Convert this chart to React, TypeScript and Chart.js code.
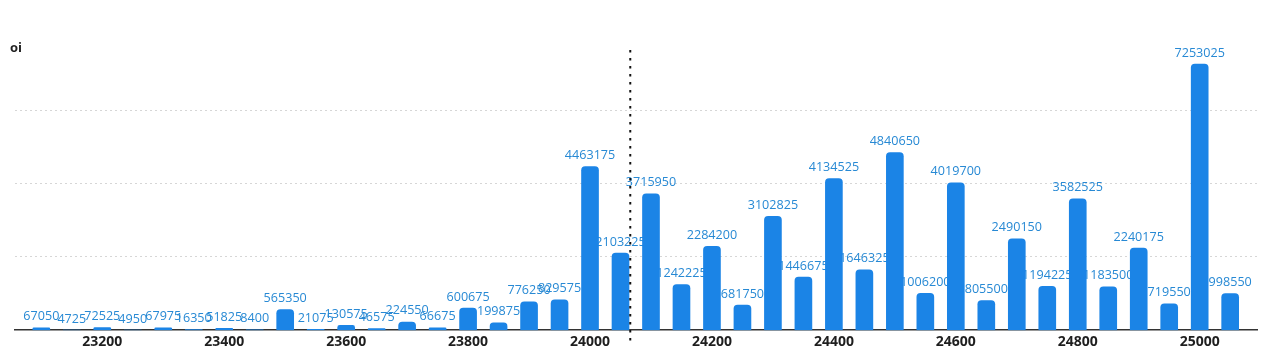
import { useEffect, useRef } from "react";
import { Chart, registerables } from "chart.js";

Chart.register(...registerables);

const strikes = [
  23100, 23150, 23200, 23250, 23300, 23350, 23400, 23450, 23500, 23550,
  23600, 23650, 23700, 23750, 23800, 23850, 23900, 23950, 24000, 24050,
  24100, 24150, 24200, 24250, 24300, 24350, 24400, 24450, 24500, 24550,
  24600, 24650, 24700, 24750, 24800, 24850, 24900, 24950, 25000, 25050,
];

const oiValues = [
  67050, 4725, 72525, 4950, 67975, 16350, 51825, 8400, 565350, 21075,
  130575, 46575, 224550, 66675, 600675, 199875, 776250, 829575, 4463175, 2103225,
  3715950, 1242225, 2284200, 681750, 3102825, 1446675, 4134525, 1646325, 4840650, 1006200,
  4019700, 805500, 2490150, 1194225, 3582525, 1183500, 2240175, 719550, 7253025, 998550,
];

const xTickValues = [23200, 23400, 23600, 23800, 24000, 24200, 24400, 24600, 24800, 25000];
const yGridValues = [2000000, 4000000, 6000000];
const spotPrice = 24066;
const yAxisTitle = "oi";

const BAR_COLOR = "#1b84e6";
const LABEL_COLOR = "#2789d4";
const FONT = '"Open Sans", "Noto Sans", sans-serif';

const valueLabels = {
  id: "valueLabels",
  beforeDatasetsDraw(chart: any) {
    const ctx = chart.ctx;
    const meta = chart.getDatasetMeta(0);
    ctx.save();
    ctx.font = `12.6px ${FONT}`;
    ctx.fillStyle = LABEL_COLOR;
    ctx.textAlign = "center";
    ctx.textBaseline = "alphabetic";
    meta.data.forEach((el: any, i: number) => {
      ctx.fillText(String(oiValues[i]), el.x, el.y - 7.5);
    });
    ctx.restore();
  },
};

const spotLine = {
  id: "spotLine",
  afterDatasetsDraw(chart: any) {
    const ctx = chart.ctx;
    const x = chart.scales.x.getPixelForValue(spotPrice);
    const { top, bottom } = chart.chartArea;
    ctx.save();
    ctx.strokeStyle = "#111";
    ctx.lineWidth = 2;
    ctx.setLineDash([2.5, 5.5]);
    ctx.beginPath();
    ctx.moveTo(x, top);
    ctx.lineTo(x, bottom + 13);
    ctx.stroke();
    ctx.restore();
  },
};

const cornerTitle = {
  id: "cornerTitle",
  afterDraw(chart: any) {
    const ctx = chart.ctx;
    ctx.save();
    ctx.font = `bold 13px ${FONT}`;
    ctx.fillStyle = "#222";
    ctx.textAlign = "left";
    ctx.textBaseline = "middle";
    ctx.fillText(yAxisTitle, 2, 40);
    ctx.restore();
  },
};

export default function App() {
  const canvasRef = useRef<HTMLCanvasElement | null>(null);

  useEffect(() => {
    if (!canvasRef.current) return;
    const chart = new Chart(canvasRef.current, {
      type: "bar",
      data: {
        datasets: [
          {
            label: "oi",
            data: strikes.map((s, i) => ({ x: s, y: oiValues[i] })),
            backgroundColor: BAR_COLOR,
            barThickness: 17,
            borderRadius: 4,
            borderSkipped: "start",
          },
        ],
      },
      options: {
        animation: false,
        responsive: false,
        maintainAspectRatio: false,
        layout: { padding: { left: 6.5, right: 2, top: 42, bottom: 0 } },
        plugins: {
          legend: { display: false },
          tooltip: { enabled: false },
        },
        scales: {
          x: {
            type: "linear",
            min: 23056,
            max: 25094,
            offset: false,
            grid: { display: false, drawTicks: false },
            border: { display: true, color: "#333", width: 1.6 },
            afterBuildTicks: (axis: any) => {
              axis.ticks = xTickValues.map((v) => ({ value: v }));
            },
            ticks: {
              autoSkip: false,
              maxRotation: 0,
              padding: 3,
              color: "#1e1e1e",
              font: { family: FONT, size: 14, weight: "bold" },
              callback: (v: any) => String(v),
            },
          },
          y: {
            min: 0,
            max: 7640000,
            afterBuildTicks: (axis: any) => {
              axis.ticks = yGridValues.map((v) => ({ value: v }));
            },
            ticks: { display: false },
            grid: { color: "#d6d6d6", drawTicks: false, lineWidth: 1 },
            border: { display: false, dash: [2, 3] },
          },
        },
      },
      plugins: [valueLabels, spotLine, cornerTitle],
    });
    return () => chart.destroy();
  }, []);

  return (
    <canvas
      ref={canvasRef}
      width={1251}
      height={345}
      style={{ display: "block", width: "1251px", height: "345px" }}
    />
  );
}
